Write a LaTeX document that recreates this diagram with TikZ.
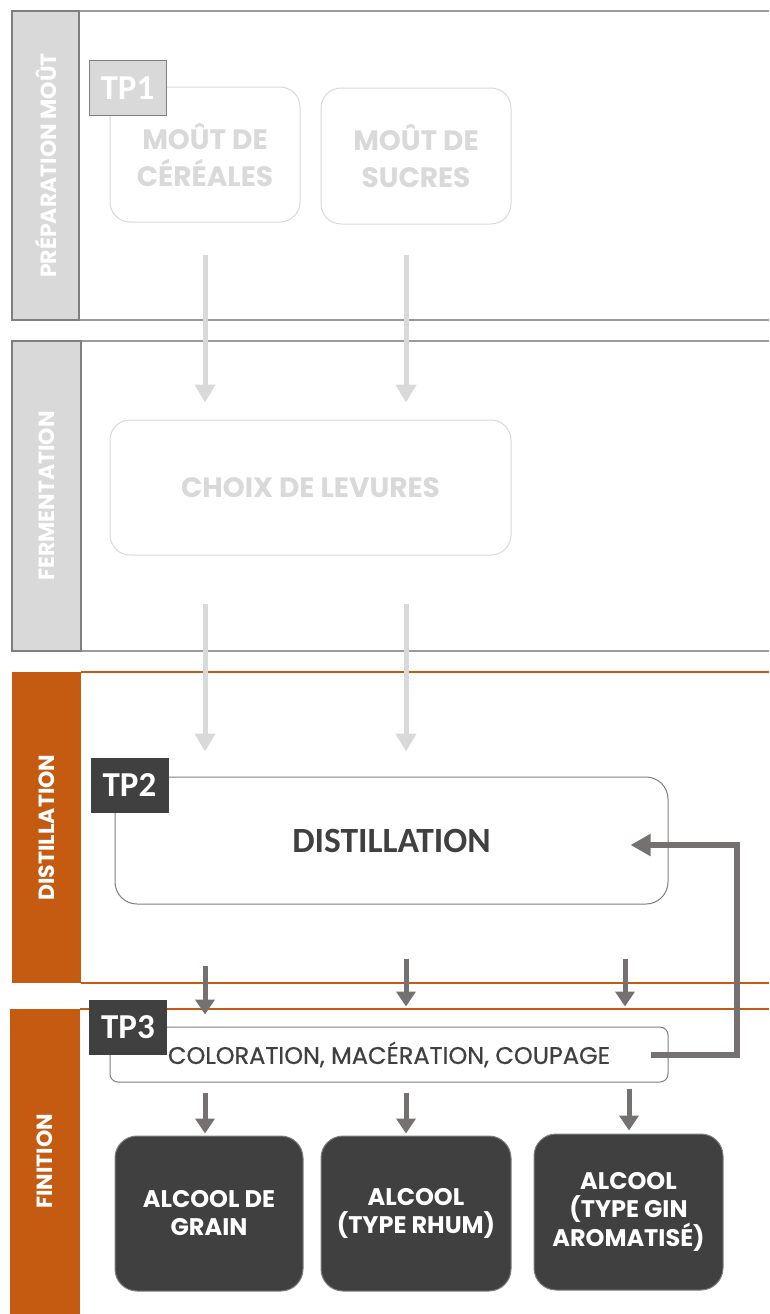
\documentclass[tikz,border=0pt]{standalone}
\usepackage{fontspec}
\setmainfont{Poppins}
\newfontfamily\popm[FakeBold=0.6]{Poppins}
\newfontfamily\calib{Carlito}
\usetikzlibrary{arrows.meta,calc}
\definecolor{lightg}{HTML}{D9D9D9}
\definecolor{midg}{HTML}{7F7F7F}
\definecolor{frameg}{HTML}{9A9A9A}
\definecolor{orng}{HTML}{C55A11}
\definecolor{darkg}{HTML}{404040}
\definecolor{arrg}{HTML}{767171}
\tikzset{
  barlabel/.style={rotate=90,text=white,font=\bfseries\fontsize{22}{22}\selectfont},
  ghostbox/.style={draw=lightg,line width=1pt,rounded corners=20pt,text=lightg,align=center,font=\bfseries\fontsize{28}{37}\selectfont,inner sep=0pt},
  tpbox/.style={draw=midg,line width=1pt,minimum width=77pt,minimum height=54pt,inner sep=0pt,font=\calib\bfseries\fontsize{35}{35}\selectfont,text=white},
  outbox/.style={draw=midg,fill=darkg,line width=1pt,rounded corners=22pt,text=white,align=center,font=\bfseries\fontsize{24}{28}\selectfont,inner sep=0pt},
  lar/.style={draw=lightg,line width=5pt,-{Triangle[width=20pt,length=18pt]}},
  dar/.style={draw=arrg,line width=5pt,-{Triangle[width=19pt,length=15pt]}},
}
\begin{document}
\begin{tikzpicture}[x=1pt,y=-1pt]
\useasboundingbox (0,0) rectangle (769,1314);
\fill[white] (0,0) rectangle (769,1314);
% section frames
\draw[frameg,line width=1.2pt] (79,11) -- (769,11) (79,320) -- (769,320);
\draw[frameg,line width=1.2pt] (81,341) -- (769,341) (81,651) -- (769,651);
\draw[orng,line width=1.4pt] (81,672) -- (769,672) (81,983) -- (769,983);
\draw[orng,line width=1.4pt] (80,1009) -- (769,1009);
% bars
\node[draw=midg,fill=lightg,line width=1.2pt,minimum width=67pt,minimum height=309pt,inner sep=0pt] (bar1) at (45.5,165.5) {};
\node[barlabel] at (bar1) {PRÉPARATION MOÛT};
\node[draw=midg,fill=lightg,line width=1.2pt,minimum width=69pt,minimum height=310pt,inner sep=0pt] (bar2) at (46.5,496) {};
\node[barlabel] at (bar2) {FERMENTATION};
\node[fill=orng,minimum width=69pt,minimum height=311pt,inner sep=0pt] (bar3) at (46.5,827.5) {};
\node[barlabel] at (bar3) {DISTILLATION};
\node[fill=orng,minimum width=70pt,minimum height=305pt,inner sep=0pt] (bar4) at (45,1161.5) {};
\node[barlabel] at (bar4) {FINITION};
% ghost boxes
\node[ghostbox,minimum width=190pt,minimum height=135pt] (mc) at (205,154.5) {MOÛT DE\\CÉRÉALES};
\node[ghostbox,minimum width=190pt,minimum height=136pt] (ms) at (416,156) {MOÛT DE\\SUCRES};
\node[ghostbox,minimum width=401pt,minimum height=135pt] (ch) at (310.5,487.5) {CHOIX DE LEVURES};
\node[tpbox,fill=lightg] (tp1) at (127.5,88) {TP1};
% distillation
\node[draw=midg,line width=1pt,rounded corners=22pt,minimum width=553pt,minimum height=127pt,inner sep=0pt,text=darkg,font=\calib\bfseries\fontsize{35.5}{35.5}\selectfont] (di) at (391.5,840.5) {DISTILLATION};
\node[tpbox,fill=darkg,draw=darkg] (tp2) at (129.5,785.5) {TP2};
% coloration
\node[draw=midg,line width=1pt,rounded corners=8pt,minimum width=558pt,minimum height=55pt,inner sep=0pt,text=darkg,font=\popm\fontsize{24}{24}\selectfont] (co) at (389,1054.5) {COLORATION, MACÉRATION, COUPAGE};
\node[tpbox,fill=darkg,draw=darkg] (tp3) at (128,1027) {TP3};
% outputs
\node[outbox,minimum width=188pt,minimum height=155pt] (o1) at (209,1213.5) {ALCOOL DE\\GRAIN};
\node[outbox,minimum width=190pt,minimum height=155pt] (o2) at (416,1213.5) {ALCOOL\\(TYPE RHUM)};
\node[outbox,minimum width=189pt,minimum height=156pt] (o3) at (628.5,1212) {ALCOOL\\(TYPE GIN\\AROMATISÉ)};
% light arrows
\draw[lar,shorten <=32pt,shorten >=17pt] (mc.south) -- (mc.south |- ch.north);
\draw[lar,shorten <=30pt,shorten >=17pt] ([xshift=-10pt]ms.south) -- ([xshift=-10pt]ms.south |- ch.north);
\draw[lar,shorten <=48pt,shorten >=25pt] (mc.south |- ch.south) -- (mc.south |- di.north);
\draw[lar,shorten <=48pt,shorten >=25pt] ([xshift=-10pt]ms.south |- ch.south) -- ([xshift=-10pt]ms.south |- di.north);
% dark arrows
\draw[dar,shorten <=61pt,shorten >=12pt] (mc.south |- di.south) -- (mc.south |- co.north);
\draw[dar,shorten <=54pt,shorten >=20pt] ([xshift=-10pt]ms.south |- di.south) -- ([xshift=-10pt]ms.south |- co.north);
\draw[dar,shorten <=54pt,shorten >=20pt] (625,0 |- di.south) -- (625,0 |- co.north);
\draw[dar,shorten <=10pt,shorten >=2pt] (mc.south |- co.south) -- (mc.south |- o1.north);
\draw[dar,shorten <=10pt,shorten >=2pt] ([xshift=-10pt]o2.north |- co.south) -- ([xshift=-10pt]o2.north);
\draw[dar,shorten <=6pt,shorten >=3pt] (629,0 |- co.south) -- (629,0 |- o3.north);
% feedback
\coordinate (fbk) at (737,845);
\draw[draw=arrg,line width=6pt,-{Triangle[width=21pt,length=20pt]}] ([xshift=-18pt]co.east) -| (fbk) -- ([xshift=-38pt,yshift=-4.5pt]di.east);
\end{tikzpicture}
\end{document}
